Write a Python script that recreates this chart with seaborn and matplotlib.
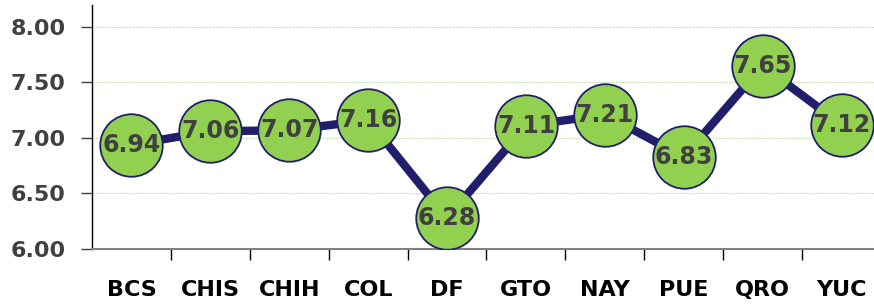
import pandas as pd
import matplotlib
matplotlib.use('Agg')
import matplotlib.pyplot as plt
import seaborn as sns

# 数据
estados = ['BCS', 'CHIS', 'CHIH', 'COL', 'DF', 'GTO', 'NAY', 'PUE', 'QRO', 'YUC']
valores = [6.94, 7.06, 7.07, 7.16, 6.28, 7.11, 7.21, 6.83, 7.65, 7.12]
y_ticks = [6.0, 6.5, 7.0, 7.5, 8.0]

df = pd.DataFrame({'estado': estados, 'valor': valores})
df['pos'] = range(len(df))

sns.set_style('white')
plt.rcParams['font.family'] = ['DejaVu Sans']

fig = plt.figure(figsize=(8.74, 3.04), dpi=100)
ax = fig.add_axes([92 / 874, 55 / 304, 789 / 874, 244 / 304])

navy = '#211E6B'
green = '#92D050'

sns.lineplot(data=df, x='pos', y='valor', ax=ax, color=navy, linewidth=6,
             marker='o', markersize=45, markerfacecolor=green,
             markeredgecolor=navy, markeredgewidth=1.3, zorder=3)

for p, v in zip(df['pos'], df['valor']):
    ax.text(p, v, f'{v:.2f}', ha='center', va='center', fontsize=17,
            fontweight='bold', color='#404040', zorder=5)

ax.set_xlim(-0.5, len(estados) - 0.5)
ax.set_ylim(6.0, 8.198)
ax.set_yticks(y_ticks)
ax.set_yticklabels([f'{t:.2f}' for t in y_ticks], fontsize=16,
                   fontweight='bold', color='#404040')
ax.set_xticks(df['pos'])
ax.set_xticklabels(estados, fontsize=16, fontweight='bold', color='black')
ax.set_xticks([i + 0.5 for i in range(len(estados) - 1)], minor=True)
ax.tick_params(axis='x', which='major', length=0, pad=22)
ax.tick_params(axis='x', which='minor', length=8, width=1, color='black',
               direction='out', bottom=True)
ax.tick_params(axis='y', length=8, width=1, color='#404040', direction='out',
               left=True, pad=11)

for t in y_ticks[1:]:
    ax.axhline(t, color='#C6E0B4', linestyle=(0, (2, 1)), linewidth=0.8, zorder=1)

ax.set_xlabel('')
ax.set_ylabel('')
for s in ['top', 'right']:
    ax.spines[s].set_visible(False)
ax.spines['left'].set_color('black')
ax.spines['left'].set_linewidth(1)
ax.spines['bottom'].set_color('#808080')
ax.spines['bottom'].set_linewidth(1.5)

fig.savefig('out.png', dpi=100)
